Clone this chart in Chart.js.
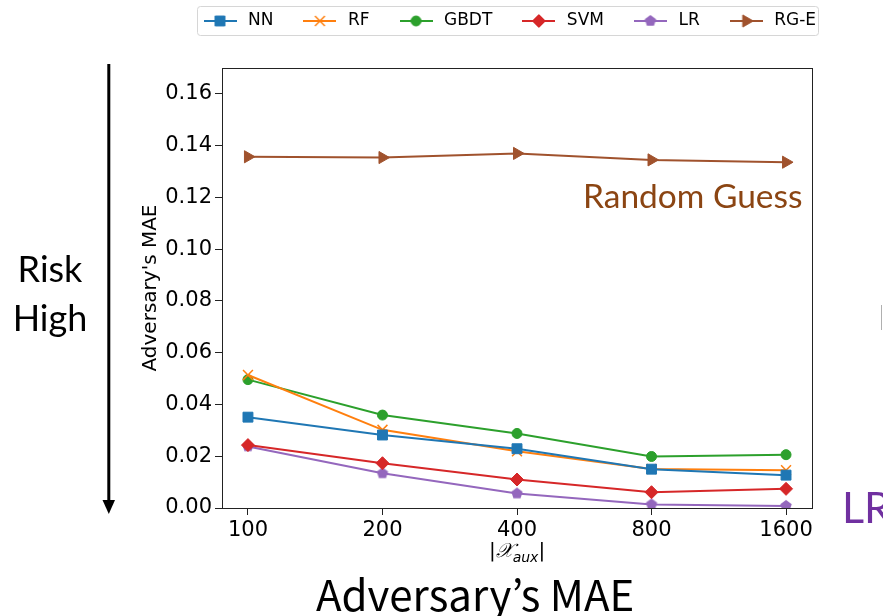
<!DOCTYPE html>
<html>
<head>
<meta charset="utf-8">
<script src="https://cdn.jsdelivr.net/npm/chart.js@4.4.0/dist/chart.umd.min.js"></script>
<style>
  body { margin: 0; background: #fff; }
  #wrap { position: relative; width: 883px; height: 616px; overflow: hidden; background: #fff; }
  #chart { position: absolute; left: 0; top: 0; }
  .note { position: absolute; white-space: nowrap; line-height: 1; }
</style>
</head>
<body>
<div id="wrap">
  <canvas id="chart" width="883" height="616"></canvas>
  <div class="note" style="left:0;width:100px;top:244px;font:36px Lato;line-height:49px;text-align:center;color:#000">Risk<br>High</div>
  <div class="note" style="left:583px;top:175px;font:33.5px Lato;color:#8b4513">Random Guess</div>
  <div class="note" style="left:842px;top:481px;font:43px Lato;color:#7030a0">LR</div>
  <div class="note" style="left:417px;width:200px;top:538px;text-align:center;font:20px 'DejaVu Sans';color:#000">|<i style="font-family:'DejaVu Serif'">𝒳</i><sub style="font-style:italic;font-size:14px">aux</sub>|</div>
  <div class="note" style="left:316px;top:562px;font:42px 'Noto Sans CJK JP';color:#000">Adversary’s MAE</div>
</div>
<script>
// |X_aux| values on the x axis
const sizes = ['100', '200', '400', '800', '1600'];
const yTicks = [0, 0.02, 0.04, 0.06, 0.08, 0.10, 0.12, 0.14, 0.16];

const nnMae   = [0.0351, 0.0282, 0.0229, 0.0150, 0.0127];
const rfMae   = [0.0514, 0.0302, 0.0219, 0.0151, 0.0146];
const gbdtMae = [0.0496, 0.0359, 0.0288, 0.0199, 0.0206];
const svmMae  = [0.0243, 0.0173, 0.0110, 0.0061, 0.0074];
const lrMae   = [0.0238, 0.0134, 0.0056, 0.0014, 0.0008];
const rgeMae  = [0.1357, 0.1354, 0.1370, 0.1345, 0.1336];

function pentagon(color, r) {
    const c = document.createElement('canvas');
    c.width = c.height = Math.ceil(r * 2 + 2);
    const ctx = c.getContext('2d');
    ctx.translate(c.width / 2, c.height / 2);
    ctx.beginPath();
    for (let k = 0; k < 5; k++) {
        const a = -Math.PI / 2 + k * 2 * Math.PI / 5;
        ctx.lineTo(r * Math.cos(a), r * Math.sin(a));
    }
    ctx.closePath();
    ctx.fillStyle = color;
    ctx.fill();
    return c;
}

function series(label, values, color, style, radius, extra) {
    return Object.assign({
        label: label,
        data: values.map((v, i) => ({ x: i, y: v })),
        borderColor: color,
        backgroundColor: color,
        borderWidth: 2,
        pointStyle: style,
        pointRadius: radius,
        pointHoverRadius: radius,
        pointBorderWidth: 1,
        pointBorderColor: color,
        pointBackgroundColor: color,
        tension: 0
    }, extra || {});
}

const datasets = [
    series('NN', nnMae, '#1f77b4', 'rect', 7),
    series('RF', rfMae, '#ff7f0e', 'crossRot', 7, { pointBorderWidth: 1.5 }),
    series('GBDT', gbdtMae, '#2ca02c', 'circle', 5),
    series('SVM', svmMae, '#d62728', 'rectRot', 6.5),
    series('LR', lrMae, '#9467bd', pentagon('#9467bd', 6), 6),
    series('RG-E', rgeMae, '#a0522d', 'triangle', 7, { pointRotation: 90 })
];

// small line + marker picture for each legend entry
function legendIcon(ds) {
    const c = document.createElement('canvas');
    c.width = 33; c.height = 16;
    const ctx = c.getContext('2d');
    ctx.strokeStyle = ds.borderColor;
    ctx.lineWidth = 2;
    ctx.beginPath();
    ctx.moveTo(0, 8); ctx.lineTo(33, 8);
    ctx.stroke();
    if (typeof ds.pointStyle === 'object') {
        const img = ds.pointStyle;
        ctx.drawImage(img, 16.5 - img.width / 2, 8 - img.height / 2);
    } else {
        ctx.fillStyle = ds.pointBackgroundColor;
        ctx.lineWidth = ds.pointBorderWidth;
        Chart.helpers.drawPoint(ctx, {
            pointStyle: ds.pointStyle,
            radius: ds.pointRadius,
            rotation: ds.pointRotation || 0,
            borderWidth: ds.pointBorderWidth
        }, 16.5, 8);
    }
    return c;
}

const frame = {
    id: 'frame',
    afterLayout(chart) {
        const lg = chart.legend;
        const h = lg.height;
        lg.left = 173.5; lg.right = 883; lg.width = lg.right - lg.left;
        lg.top = -14.5; lg.bottom = lg.top + h;
    },
    beforeDraw(chart) {
        const ctx = chart.ctx;
        ctx.save();
        ctx.fillStyle = '#fff';
        ctx.fillRect(0, 0, chart.width, chart.height);
        ctx.strokeStyle = '#d6d6d6';
        ctx.lineWidth = 1;
        ctx.beginPath();
        ctx.roundRect(197.5, 6.5, 621, 29, 3);
        ctx.stroke();
        ctx.restore();
    },
    afterDraw(chart) {
        const ctx = chart.ctx;
        const a = chart.chartArea;
        ctx.save();
        ctx.strokeStyle = '#222';
        ctx.lineWidth = 1;
        ctx.strokeRect(Math.round(a.left) + 0.5, Math.round(a.top) + 0.5, Math.round(a.right - a.left), Math.round(a.bottom - a.top));
        // risk arrow
        ctx.fillStyle = '#000';
        ctx.fillRect(107.3, 64, 3, 438);
        ctx.beginPath();
        ctx.moveTo(102.5, 500); ctx.lineTo(115, 500); ctx.lineTo(108.8, 514);
        ctx.closePath();
        ctx.fill();
        // stray mark at right edge
        ctx.fillStyle = '#b0b0b0';
        ctx.fillRect(881, 305, 1, 25);
        ctx.restore();
    }
};

new Chart(document.getElementById('chart'), {
    type: 'line',
    data: { datasets: datasets },
    options: {
        responsive: false,
        animation: false,
        layout: { padding: { left: 130, right: 71, top: 14, bottom: 46 } },
        plugins: {
            tooltip: { enabled: false },
            legend: {
                position: 'top',
                align: 'start',
                maxHeight: 69,
                labels: {
                    usePointStyle: true,
                    pointStyleWidth: 39,
                    padding: 27,
                    color: '#000',
                    font: { family: 'DejaVu Sans', size: 17 },
                    generateLabels: chart => chart.data.datasets.map((ds, i) => ({
                        text: ds.label,
                        pointStyle: legendIcon(ds),
                        datasetIndex: i,
                        lineWidth: 0,
                        hidden: false,
                        fontColor: '#000'
                    }))
                }
            }
        },
        scales: {
            x: {
                type: 'linear',
                min: -0.193,
                max: 4.193,
                afterBuildTicks: s => { s.ticks = sizes.map((t, i) => ({ value: i })); },
                afterFit: s => { s.height = 62; },
                ticks: {
                    callback: v => sizes[v],
                    color: '#000',
                    padding: 3,
                    maxRotation: 0,
                    font: { family: 'DejaVu Sans', size: 21 }
                },
                grid: { drawOnChartArea: false, drawTicks: true, tickLength: 7, tickColor: '#222' },
                border: { display: true, color: '#222', width: 1 }
            },
            y: {
                min: 0,
                max: 0.17,
                afterBuildTicks: s => { s.ticks = yTicks.map(v => ({ value: v })); },
                afterFit: s => { s.width = 92; },
                ticks: {
                    callback: v => v.toFixed(2),
                    color: '#000',
                    padding: 3,
                    font: { family: 'DejaVu Sans', size: 21 }
                },
                title: {
                    display: true,
                    text: "Adversary's MAE",
                    color: '#000',
                    padding: { top: 9, bottom: 0 },
                    font: { family: 'DejaVu Sans', size: 20 }
                },
                grid: { drawOnChartArea: false, drawTicks: true, tickLength: 7, tickColor: '#222' },
                border: { display: true, color: '#222', width: 1 }
            }
        }
    },
    plugins: [frame]
});
</script>
</body>
</html>
